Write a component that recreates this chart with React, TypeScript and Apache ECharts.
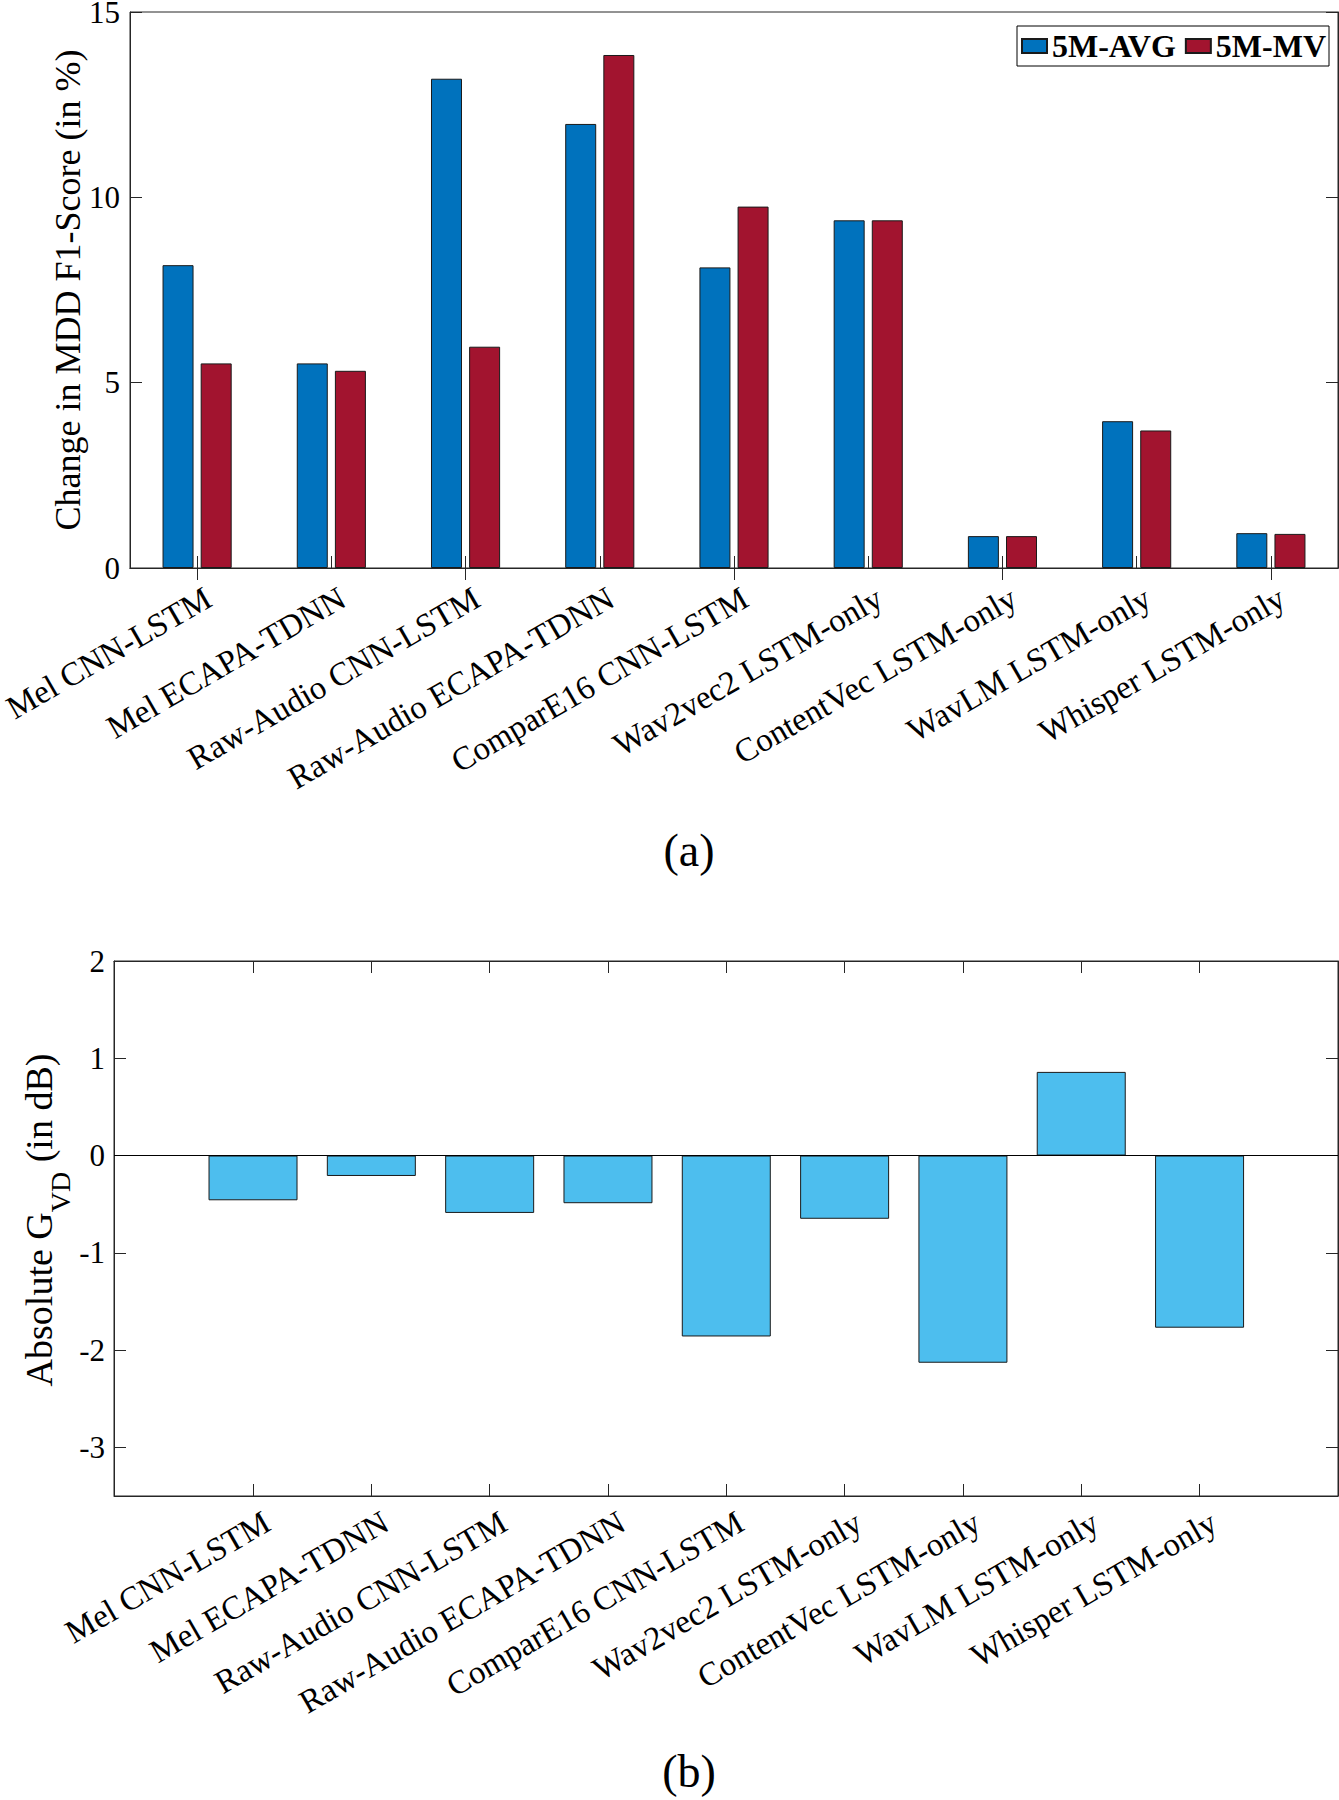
import React, { useEffect, useRef } from "react";
import * as echarts from "echarts";

const FONT = "'Liberation Serif', 'Times New Roman', serif";
const AXIS_COLOR = "#262626";

const categories = [
  "Mel CNN-LSTM",
  "Mel ECAPA-TDNN",
  "Raw-Audio CNN-LSTM",
  "Raw-Audio ECAPA-TDNN",
  "ComparE16 CNN-LSTM",
  "Wav2vec2 LSTM-only",
  "ContentVec LSTM-only",
  "WavLM LSTM-only",
  "Whisper LSTM-only",
];
const categoryPositions = [1, 2, 3, 4, 5, 6, 7, 8, 9];

const seriesNames = ["5M-AVG", "5M-MV"];
const avg5M = [8.17, 5.52, 13.2, 11.98, 8.11, 9.38, 0.86, 3.96, 0.94];
const mv5M = [5.52, 5.32, 5.97, 13.84, 9.75, 9.38, 0.86, 3.71, 0.92];

const gvdValues = [-0.46, -0.21, -0.59, -0.49, -1.86, -0.65, -2.13, 0.86, -1.77];

const topYTicks = [0, 5, 10, 15];
const bottomYTicks = [-3, -2, -1, 0, 1, 2];
const captions = ["(a)", "(b)"];

const tickStyle = { color: AXIS_COLOR, width: 1 };

export default function App() {
  const ref = useRef<HTMLDivElement>(null);

  useEffect(() => {
    if (!ref.current) return;
    const chart = echarts.init(ref.current, undefined, { renderer: "svg" });

    const xLabelBase = {
      interval: 0,
      rotate: 30,
      verticalAlign: "top",
      fontSize: 33,
      fontFamily: FONT,
      color: "#000",
      hideOverlap: false,
    };
    const yLabelBase = {
      fontSize: 31,
      lineHeight: 24,
      fontFamily: FONT,
      color: "#000",
    };

    const option: any = {
      animation: false,
      backgroundColor: "#ffffff",
      grid: [
        {
          left: 130,
          top: 12,
          width: 1208,
          height: 556,
          show: true,
          borderColor: AXIS_COLOR,
          borderWidth: 1,
          backgroundColor: "transparent",
          containLabel: false,
          outerBoundsMode: "none",
        },
        {
          left: 114,
          top: 961,
          width: 1224,
          height: 535,
          show: true,
          borderColor: AXIS_COLOR,
          borderWidth: 1,
          backgroundColor: "transparent",
          containLabel: false,
          outerBoundsMode: "none",
        },
      ],
      legend: {
        data: seriesNames,
        left: 1017,
        top: 26,
        orient: "horizontal",
        icon: "rect",
        itemWidth: 25,
        itemHeight: 14,
        itemGap: 9,
        padding: [4, 3, 4, 4],
        borderColor: "#000",
        borderWidth: 1,
        backgroundColor: "#ffffff",
        selectedMode: false,
        textStyle: {
          fontFamily: FONT,
          fontSize: 32,
          fontWeight: "bold",
          color: "#000",
        },
      },
      xAxis: [
        {
          type: "category",
          gridIndex: 0,
          data: categories,
          position: "bottom",
          axisLine: { show: true, lineStyle: tickStyle },
          axisTick: { show: true, inside: true, length: 12, alignWithLabel: true, lineStyle: tickStyle },
          axisLabel: { ...xLabelBase, padding: [6, 0, 0, 0], margin: 8 },
          splitLine: { show: false },
        },
        {
          type: "category",
          gridIndex: 0,
          data: categories,
          position: "top",
          axisLine: { show: true, lineStyle: tickStyle },
          axisTick: { show: true, inside: true, length: 12, alignWithLabel: true, lineStyle: tickStyle },
          axisLabel: { show: false },
          splitLine: { show: false },
        },
        {
          type: "value",
          gridIndex: 1,
          min: -0.175,
          max: 10.17,
          position: "bottom",
          axisLine: { show: true, onZero: false, lineStyle: tickStyle },
          axisTick: { show: true, inside: true, length: 12, customValues: categoryPositions, lineStyle: tickStyle },
          axisLabel: {
            ...xLabelBase,
            customValues: categoryPositions,
            formatter: (v: number) => categories[Math.round(v) - 1] || "",
            padding: [12, 0, 0, 0],
            margin: -1,
          },
          splitLine: { show: false },
        },
        {
          type: "value",
          gridIndex: 1,
          min: -0.175,
          max: 10.17,
          position: "top",
          axisLine: { show: true, onZero: false, lineStyle: tickStyle },
          axisTick: { show: true, inside: true, length: 12, customValues: categoryPositions, lineStyle: tickStyle },
          axisLabel: { show: false },
          splitLine: { show: false },
        },
      ],
      yAxis: [
        {
          type: "value",
          gridIndex: 0,
          min: 0,
          max: 15,
          position: "left",
          axisLine: { show: true, lineStyle: tickStyle },
          axisTick: { show: true, inside: true, length: 12, customValues: topYTicks, lineStyle: tickStyle },
          axisLabel: { ...yLabelBase, customValues: topYTicks, margin: 10 },
          splitLine: { show: false },
          name: "Change in MDD F1-Score (in %)",
          nameLocation: "middle",
          nameGap: 44,
          nameMoveOverlap: false,
          nameTextStyle: { fontSize: 36, fontFamily: FONT, color: "#000" },
        },
        {
          type: "value",
          gridIndex: 0,
          min: 0,
          max: 15,
          position: "right",
          axisLine: { show: true, lineStyle: tickStyle },
          axisTick: { show: true, inside: true, length: 12, customValues: topYTicks, lineStyle: tickStyle },
          axisLabel: { show: false },
          splitLine: { show: false },
        },
        {
          type: "value",
          gridIndex: 1,
          min: -3.5,
          max: 2,
          position: "left",
          axisLine: { show: true, onZero: false, lineStyle: tickStyle },
          axisTick: { show: true, inside: true, length: 12, customValues: bottomYTicks, lineStyle: tickStyle },
          axisLabel: { ...yLabelBase, customValues: bottomYTicks, margin: 9 },
          splitLine: { show: false },
          name: "{m|Absolute G}{sub|VD}{m| (in dB)}",
          nameLocation: "middle",
          nameGap: 40,
          nameMoveOverlap: false,
          nameTextStyle: {
            fontSize: 38,
            fontFamily: FONT,
            color: "#000",
            padding: [0, 0, 0, 17],
            rich: {
              m: {
                fontSize: 38,
                lineHeight: 38,
                fontFamily: FONT,
                color: "#000",
                verticalAlign: "top",
              },
              sub: {
                fontSize: 28,
                lineHeight: 54,
                fontFamily: FONT,
                color: "#000",
                verticalAlign: "bottom",
              },
            },
          },
        },
        {
          type: "value",
          gridIndex: 1,
          min: -3.5,
          max: 2,
          position: "right",
          axisLine: { show: true, onZero: false, lineStyle: tickStyle },
          axisTick: { show: true, inside: true, length: 12, customValues: bottomYTicks, lineStyle: tickStyle },
          axisLabel: { show: false },
          splitLine: { show: false },
        },
      ],
      series: [
        {
          name: seriesNames[0],
          type: "bar",
          xAxisIndex: 0,
          yAxisIndex: 0,
          data: avg5M,
          barWidth: 31,
          barGap: "23%",
          itemStyle: { color: "#0072BD", borderColor: "#1a1a1a", borderWidth: 1 },
        },
        {
          name: seriesNames[1],
          type: "bar",
          xAxisIndex: 0,
          yAxisIndex: 0,
          data: mv5M,
          barWidth: 31,
          barGap: "23%",
          itemStyle: { color: "#A2142F", borderColor: "#1a1a1a", borderWidth: 1 },
        },
        {
          name: "GVD",
          type: "bar",
          xAxisIndex: 2,
          yAxisIndex: 2,
          data: categoryPositions.map((p, i) => [p, gvdValues[i]]),
          barWidth: 89,
          itemStyle: { color: "#4DBEEE", borderColor: "#1a1a1a", borderWidth: 1 },
          markLine: {
            silent: true,
            symbol: "none",
            label: { show: false },
            lineStyle: { color: "#000", width: 1.2, type: "solid" },
            data: [{ yAxis: 0 }],
          },
        },
      ],
      graphic: [
        {
          type: "text",
          x: 689,
          y: 850,
          style: {
            text: captions[0],
            fontFamily: FONT,
            fontSize: 46,
            fill: "#000",
            align: "center",
            verticalAlign: "middle",
          },
        },
        {
          type: "text",
          x: 689,
          y: 1771,
          style: {
            text: captions[1],
            fontFamily: FONT,
            fontSize: 46,
            fill: "#000",
            align: "center",
            verticalAlign: "middle",
          },
        },
      ],
    };

    chart.setOption(option);
    return () => {
      chart.dispose();
    };
  }, []);

  return (
    <div
      ref={ref}
      style={{ position: "absolute", left: 0, top: 0, width: 1339, height: 1800, background: "#fff" }}
    />
  );
}
